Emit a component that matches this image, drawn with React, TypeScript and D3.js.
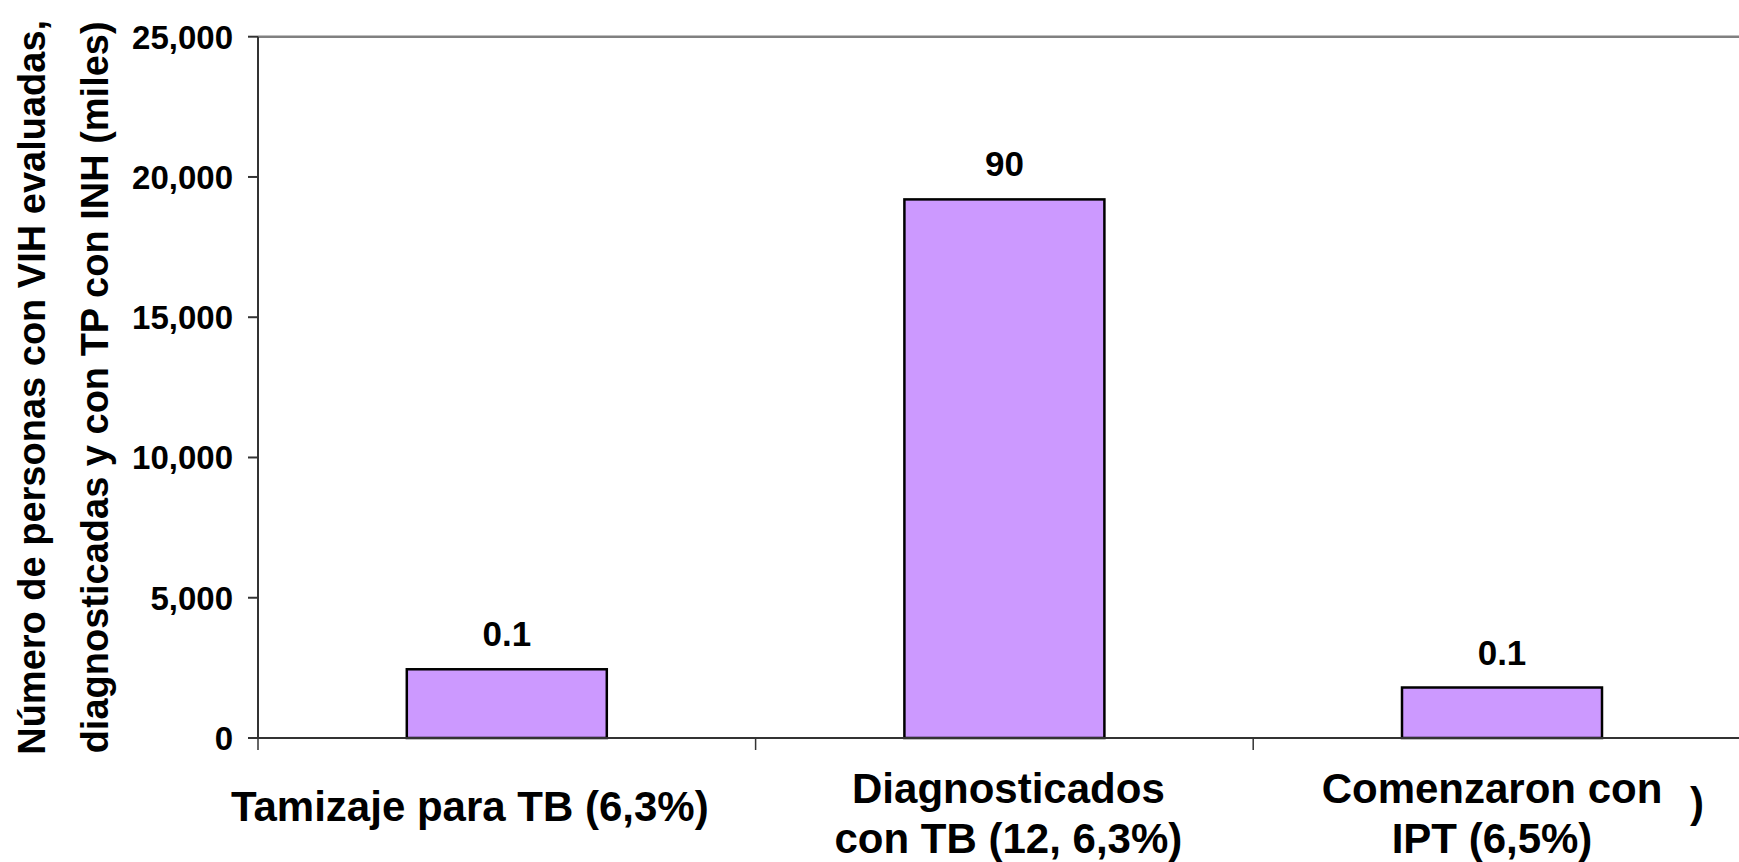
import React from "react";
import * as d3 from "d3";

// ---- Data ----
const categories: string[] = ["Tamizaje", "Diagnosticados", "Comenzaron"];
const values: number[] = [2450, 19200, 1800];
const valueLabels: string[] = ["0.1", "90", "0.1"];
const categoryLabelLines: string[][] = [
  ["Tamizaje para TB (6,3%)"],
  ["Diagnosticados", "con TB (12, 6,3%)"],
  ["Comenzaron con", "IPT (6,5%)"],
];
const yTicks: number[] = [0, 5000, 10000, 15000, 20000, 25000];
const yTitleLines: string[] = [
  "Número de personas con VIH evaluadas,",
  "diagnosticadas y con TP con INH (miles)",
];
const strayText = ")";

// ---- Layout ----
const W = 1739;
const H = 862;
const plotLeft = 258;
const plotTop = 36.7;
const plotBottom = 738;
const bandW = 497.6;
const barW = 200;
const labelOffsets: number[] = [-37, 4, -10];
const FONT = '"Liberation Sans", Arial, Helvetica, sans-serif';

export default function App() {
  const x = d3
    .scaleBand<string>()
    .domain(categories)
    .range([plotLeft, plotLeft + bandW * categories.length])
    .paddingInner(0)
    .paddingOuter(0);
  const y = d3.scaleLinear().domain([0, 25000]).range([plotBottom, plotTop]);
  const fmt = d3.format(",");
  const plotRight = plotLeft + bandW * categories.length;
  const yMid = (plotTop + plotBottom) / 2;

  return (
    <div style={{ position: "fixed", left: 0, top: 0, width: W, height: H, background: "#fff" }}>
      <svg width={W} height={H} style={{ display: "block" }} fontFamily={FONT} fontWeight="bold">
        <rect x={0} y={0} width={W} height={H} fill="#fff" />
        {/* top border of plot area */}
        <line x1={plotLeft} x2={plotRight} y1={y(25000)} y2={y(25000)} stroke="#808080" strokeWidth={2.5} />

        {/* bars */}
        {categories.map((c, i) => {
          const cx = (x(c) as number) + x.bandwidth() / 2;
          return (
            <g key={c}>
              <rect
                x={cx - barW / 2}
                y={y(values[i])}
                width={barW}
                height={plotBottom - y(values[i])}
                fill="#CC99FF"
                stroke="#000"
                strokeWidth={2.5}
              />
              <text x={cx} y={y(values[i]) - 23} textAnchor="middle" fontSize={35} fill="#000">
                {valueLabels[i]}
              </text>
            </g>
          );
        })}

        {/* y axis */}
        <line x1={plotLeft} x2={plotLeft} y1={plotTop} y2={plotBottom} stroke="#333" strokeWidth={2} />
        {yTicks.map((t) => (
          <g key={t}>
            <line x1={plotLeft - 10} x2={plotLeft} y1={y(t)} y2={y(t)} stroke="#333" strokeWidth={2} />
            <text x={plotLeft - 25} y={y(t)} dy="0.36em" textAnchor="end" fontSize={33} fill="#000">
              {fmt(t)}
            </text>
          </g>
        ))}

        {/* x axis */}
        <line x1={plotLeft} x2={plotRight} y1={plotBottom} y2={plotBottom} stroke="#333" strokeWidth={2} />
        {categories.map((c) => (
          <line
            key={"t" + c}
            x1={x(c) as number}
            x2={x(c) as number}
            y1={plotBottom}
            y2={plotBottom + 12}
            stroke="#333"
            strokeWidth={1.5}
          />
        ))}

        {/* category labels */}
        {categories.map((c, i) => {
          const cx = (x(c) as number) + x.bandwidth() / 2 + labelOffsets[i];
          const lines = categoryLabelLines[i];
          const baseY = lines.length === 1 ? 821 : 803;
          return (
            <text key={"l" + c} textAnchor="middle" fontSize={42} fill="#000">
              {lines.map((ln, j) => (
                <tspan key={j} x={cx} y={baseY + j * 50}>
                  {ln}
                </tspan>
              ))}
            </text>
          );
        })}
        <text x={1697} y={817} textAnchor="middle" fontSize={42} fill="#000">
          {strayText}
        </text>

        {/* y title */}
        {yTitleLines.map((ln, j) => (
          <text
            key={"yt" + j}
            transform={`translate(${45 + j * 63},${yMid}) rotate(-90)`}
            textAnchor="middle"
            fontSize={38}
            fill="#000"
          >
            {ln}
          </text>
        ))}
      </svg>
    </div>
  );
}
